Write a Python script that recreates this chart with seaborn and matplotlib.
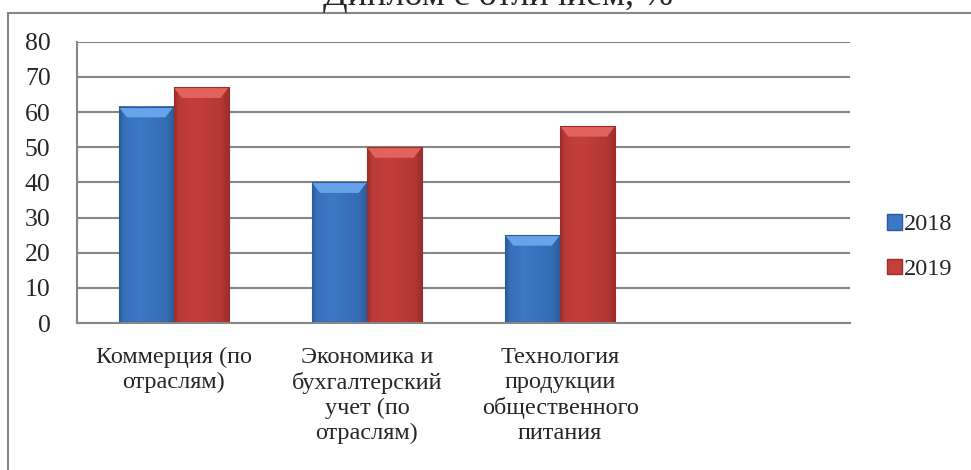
import numpy as np
import pandas as pd
import matplotlib
matplotlib.use("Agg")
import matplotlib.pyplot as plt
import seaborn as sns
from matplotlib.patches import Rectangle, Polygon, Patch
from matplotlib.colors import to_rgb

categories = ["Коммерция (по\nотраслям)",
              "Экономика и\nбухгалтерский\nучет (по\nотраслям)",
              "Технология\nпродукции\nобщественного\nпитания",
              ""]
years = ["2018", "2019"]
values_2018 = [61.5, 40, 25]
values_2019 = [67, 50, 56]
yticks = [0, 10, 20, 30, 40, 50, 60, 70, 80]
title = "Диплом с отличием, %"

colors = {"2018": "#3c78c6", "2019": "#c43f3c"}
dark = {"2018": "#2a5b98", "2019": "#9a2d2b"}
light = {"2018": "#67a3e8", "2019": "#e2625d"}

rows = []
for c, v in zip(categories[:3], values_2018):
    rows.append({"cat": c, "year": "2018", "val": v})
for c, v in zip(categories[:3], values_2019):
    rows.append({"cat": c, "year": "2019", "val": v})
df = pd.DataFrame(rows)

sns.set_style("white")
plt.rcParams['font.family'] = ['Liberation Serif', 'DejaVu Serif']

fig = plt.figure(figsize=(9.71, 4.70), dpi=100)
ax = fig.add_axes([77/971, 1-323/470, (850-77)/971, (323-41.7)/470])

order = categories[:3] + [" "]
sns.barplot(data=df, x="cat", y="val", hue="year", order=order, hue_order=years,
            palette=colors, width=0.57, ax=ax, legend=False, saturation=1,
            edgecolor="none", linewidth=0)

ax.set_xlim(-0.5, 3.5)
ax.set_ylim(0, 80)

# shaded bar effect
bar_patches = [p for p in ax.patches if p.get_height() > 0]
for p in bar_patches:
    x0, y0, w, h = p.get_x(), p.get_y(), p.get_width(), p.get_height()
    base = np.array(to_rgb(p.get_facecolor()))
    yr = "2018" if np.allclose(base, to_rgb(colors["2018"]), atol=0.02) else "2019"
    d = np.array(to_rgb(dark[yr]))
    l = np.array(to_rgb(light[yr]))
    t = np.linspace(0, 1, 64)
    prof = np.interp(t, [0, 0.08, 0.35, 0.85, 1.0], [0.0, 0.55, 0.75, 0.45, 0.0])
    cols = d[None, :] + (base - d)[None, :] * (prof[:, None] / 0.75)
    img = cols[None, :, :]
    ax.imshow(img, extent=[x0, x0 + w, y0, y0 + h], aspect="auto",
              clip_path=p, zorder=2, interpolation="bilinear")
    bev = 3.0
    inset = w * 0.15
    top = y0 + h
    ax.add_patch(Polygon([[x0, top], [x0 + w, top], [x0 + w - inset, top - bev],
                          [x0 + inset, top - bev]], closed=True,
                         facecolor=l, edgecolor="none", zorder=3))
    ax.add_patch(Rectangle((x0, y0), w, h, facecolor="none", edgecolor=d,
                           linewidth=0.8, zorder=4))
ax.set_aspect("auto")
ax.set_xlim(-0.5, 3.5)
ax.set_ylim(0, 80)

# grid and spines
ax.set_yticks(yticks)
ax.yaxis.grid(True, color="#868686", linewidth=1.5)
ax.set_axisbelow(True)
for s in ["top", "right"]:
    ax.spines[s].set_visible(False)
for s in ["left", "bottom"]:
    ax.spines[s].set_color("#868686")
    ax.spines[s].set_linewidth(1.5)
    ax.spines[s].set_zorder(5)

ax.set_xticks(range(4))
ax.set_xticklabels(categories, fontsize=17.5, linespacing=1.25, va="top")
ax.set_xticks([-0.5, 0.5, 1.5, 2.5, 3.5], minor=True)
ax.tick_params(axis="x", which="major", length=0, pad=17)
ax.tick_params(axis="x", which="minor", length=6, width=1.5, color="#868686", direction="out")
ax.tick_params(axis="y", length=8, width=1.5, color="#868686", labelsize=18.5, pad=11, direction="out")
ax.set_xlabel("")
ax.set_ylabel("")

# legend
handles = [Patch(facecolor=colors[y], edgecolor=dark[y], label=y) for y in years]
fig.legend(handles=handles, loc="center left", bbox_to_anchor=(870/971, 1-247/470),
           frameon=False, fontsize=17.5, handlelength=0.6, handleheight=0.6,
           handletextpad=0.1, labelspacing=0.95, borderpad=0.2)

# outer frame
fig.patches.append(Rectangle((8/971, -0.1), 1.2, 1 - 12.5/470 + 0.1, transform=fig.transFigure,
                             facecolor="none", edgecolor="#868686", linewidth=1.5))

fig.text(498/971, 1 - 5/470, title, ha="center", va="baseline", fontsize=26)

fig.savefig("out.png", dpi=100)
